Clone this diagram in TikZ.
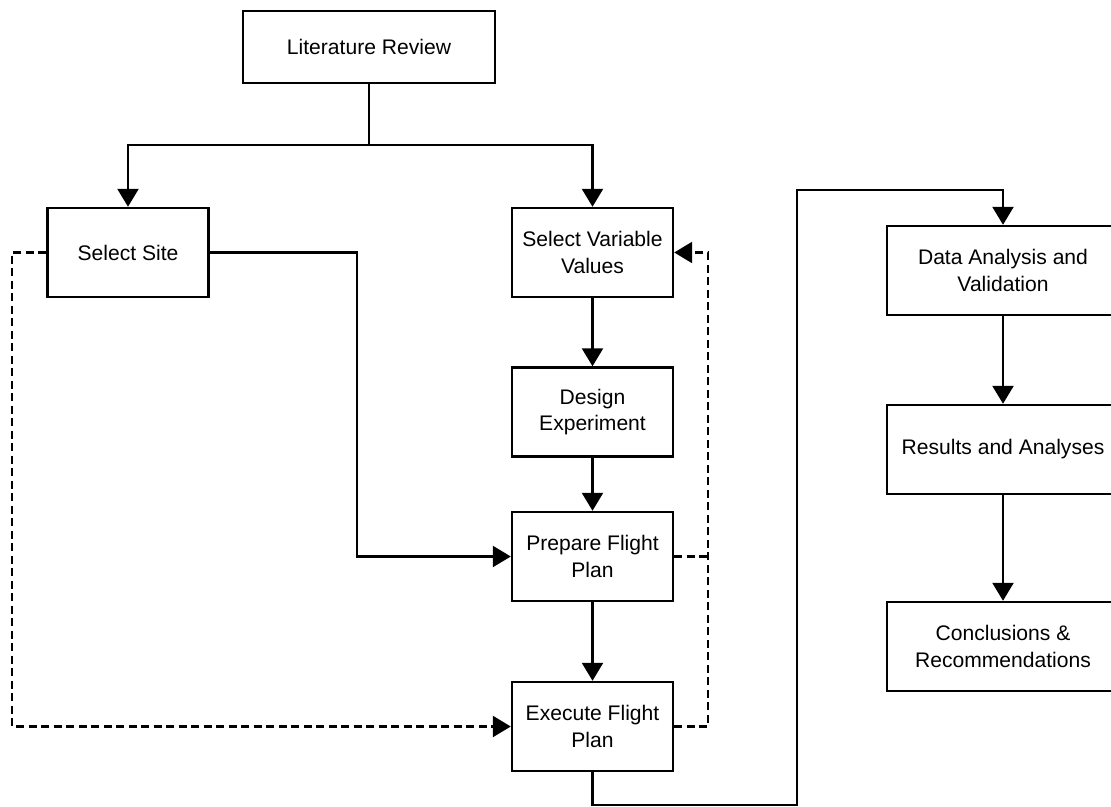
\documentclass[tikz,border=0pt]{standalone}
\usepackage{fontspec}
\setmainfont{Liberation Sans}
\usetikzlibrary{arrows.meta}

\tikzset{
    stage/.style={draw, rectangle, line width=1.4pt, align=center, font=\fontsize{12}{15}\selectfont,
        minimum width=3.22cm, minimum height=1.78cm, inner sep=2pt},
    wide/.style={stage, minimum width=4.64cm},
    flow/.style={line width=1.4pt, -{Triangle[width=0.42cm, length=0.36cm]}},
    link/.style={line width=1.4pt},
    back/.style={line width=1.4pt, dash pattern=on 0.16cm off 0.09cm},
}

\begin{document}
\begin{tikzpicture}[x=0.02cm, y=-0.02cm]
        \clip (0,0) rectangle (1111,807);

        \node[stage, minimum width=5.04cm, minimum height=1.44cm] (litreview) at (369,47) {Literature Review};
        \node[stage] (site) at (128,252.5) {Select Site};
        \node[stage] (values) at (592.5,252.5) {Select Variable\\Values};
        \node[stage] (design) at (592.5,412) {Design\\Experiment};
        \node[stage] (prepare) at (592.5,556.5) {Prepare Flight\\Plan};
        \node[stage] (execute) at (592.5,726.5) {Execute Flight\\Plan};
        \node[wide] (analysis) at (1003,270.5) {Data Analysis and\\Validation};
        \node[wide] (results) at (1003,449.5) {Results and Analyses};
        \node[wide] (conclude) at (1003,646.5) {Conclusions \&\\Recommendations};

        \coordinate (split) at (369,145);
        \coordinate (siteturn) at (357,252.5);
        \coordinate (leftloop) at (12,252.5);
        \coordinate (rightloop) at (708,726.5);
        \coordinate (bottom) at (797,805);
        \coordinate (top) at (797,190);

        \draw[link] (litreview) -- (split);
        \draw[flow] (split) -| (site.north);
        \draw[flow] (split) -| (values.north);
        \draw[flow] (site.east) -- (siteturn) |- (prepare.west);
        \draw[back, -{Triangle[width=0.42cm, length=0.36cm]}] (site.west) -- (leftloop) |- (execute.west);

        \draw[flow] (values) -- (design);
        \draw[flow] (design) -- (prepare);
        \draw[flow] (prepare) -- (execute);
        \draw[back] (prepare.east) -- (prepare.east -| rightloop);
        \draw[back, -{Triangle[width=0.42cm, length=0.36cm]}] (execute.east) -- (rightloop) |- (values.east);

        \draw[flow] (execute.south) |- (bottom) -- (top) -| (analysis.north);
        \draw[flow] (analysis) -- (results);
        \draw[flow] (results) -- (conclude);
\end{tikzpicture}
\end{document}
